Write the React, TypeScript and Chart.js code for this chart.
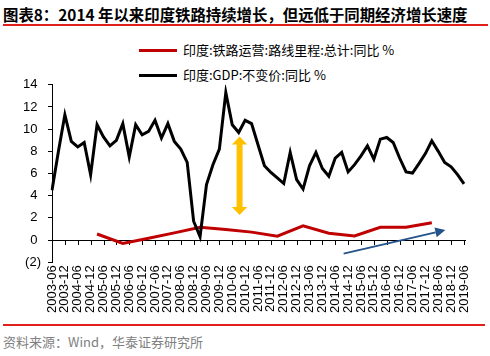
import React, { useEffect, useRef } from "react";
import { Chart, registerables } from "chart.js";

Chart.register(...registerables);

// Quarterly categories (x axis), labels shown every 6 months
const quarters: string[] = [
  "2003-06", "2003-09", "2003-12",
  "2004-03", "2004-06", "2004-09", "2004-12",
  "2005-03", "2005-06", "2005-09", "2005-12",
  "2006-03", "2006-06", "2006-09", "2006-12",
  "2007-03", "2007-06", "2007-09", "2007-12",
  "2008-03", "2008-06", "2008-09", "2008-12",
  "2009-03", "2009-06", "2009-09", "2009-12",
  "2010-03", "2010-06", "2010-09", "2010-12",
  "2011-03", "2011-06", "2011-09", "2011-12",
  "2012-03", "2012-06", "2012-09", "2012-12",
  "2013-03", "2013-06", "2013-09", "2013-12",
  "2014-03", "2014-06", "2014-09", "2014-12",
  "2015-03", "2015-06", "2015-09", "2015-12",
  "2016-03", "2016-06", "2016-09", "2016-12",
  "2017-03", "2017-06", "2017-09", "2017-12",
  "2018-03", "2018-06", "2018-09", "2018-12",
  "2019-03", "2019-06",
];

// 印度:GDP:不变价:同比 % (quarterly)
const gdpGrowth: number[] = [
  4.5, 8.0, 11.3,
  8.9, 8.4, 8.8, 5.9,
  10.4, 9.3, 8.5, 9.0,
  10.5, 7.5, 10.4, 9.5,
  9.8, 10.8, 9.2, 10.5,
  8.9, 8.2, 7.0, 1.7,
  0.3, 5.0, 6.8, 8.2,
  13.3, 10.4, 9.7, 10.8,
  10.5, 8.6, 6.7, 6.1,
  5.6, 5.1, 7.9, 5.45,
  4.6, 6.7, 7.9, 6.45,
  5.75, 7.4, 7.9, 6.15,
  6.8, 7.6, 8.5, 7.3,
  9.1, 9.25, 8.8, 7.4,
  6.15, 6.05, 6.9, 7.8,
  8.95, 8.0, 7.0, 6.6,
  5.9, 5.06,
];

// 印度:铁路运营:路线里程:总计:同比 % (annual, fiscal year ending March)
const railDates: string[] = [
  "2005-03", "2006-03", "2007-03", "2008-03", "2009-03", "2010-03", "2011-03",
  "2012-03", "2013-03", "2014-03", "2015-03", "2016-03", "2017-03", "2018-03",
];
const railGrowth: number[] = [
  0.55, -0.3, 0.16, 0.65, 1.15, 0.95, 0.72,
  0.36, 1.28, 0.62, 0.38, 1.15, 1.15, 1.57,
];

const yTicks = { min: -2, max: 14, step: 2 };

// Annotation arrows (in data units: category index, value)
const gapArrow = { at: 29.14, top: 9.33, bottom: 2.27 };
const trendArrow = { fromAt: 45.3, fromY: -1.22, toAt: 61.1, toY: 0.9 };

const titleText = "图表8：2014 年以来印度铁路持续增长，但远低于同期经济增长速度";
const legendRail = "印度:铁路运营:路线里程:总计:同比 %";
const legendGdp = "印度:GDP:不变价:同比 %";
const sourceText = "资料来源：Wind，华泰证券研究所";

const RED = "#C00000";
const BLACK = "#000000";

const decorPlugin = {
  id: "decor",
  beforeDatasetsDraw(chart: any) {
    const { ctx, chartArea, scales } = chart;
    const x = scales.x;
    const y = scales.y;
    const y0 = y.getPixelForValue(0);
    ctx.save();
    ctx.strokeStyle = "#000";
    ctx.lineWidth = 1;
    ctx.beginPath();
    ctx.moveTo(chartArea.left, Math.round(y0) + 0.5);
    ctx.lineTo(chartArea.right + 2, Math.round(y0) + 0.5);
    for (let i = 0; i < quarters.length; i += 2) {
      const px = Math.round(x.getPixelForValue(i)) + 0.5;
      ctx.moveTo(px, Math.round(y0) + 0.5);
      ctx.lineTo(px, Math.round(y0) + 5);
    }
    ctx.stroke();
    ctx.restore();
  },
  afterDatasetsDraw(chart: any) {
    const { ctx, scales } = chart;
    const x = scales.x;
    const y = scales.y;
    ctx.save();
    // orange double arrow
    const cx = x.getPixelForValue(gapArrow.at);
    const yt = y.getPixelForValue(gapArrow.top);
    const yb = y.getPixelForValue(gapArrow.bottom);
    const headL = 8;
    const headW = 7.7;
    const shaftW = 3;
    ctx.fillStyle = "#FFC000";
    ctx.beginPath();
    ctx.moveTo(cx, yt);
    ctx.lineTo(cx + headW, yt + headL);
    ctx.lineTo(cx + shaftW, yt + headL);
    ctx.lineTo(cx + shaftW, yb - headL);
    ctx.lineTo(cx + headW, yb - headL);
    ctx.lineTo(cx, yb);
    ctx.lineTo(cx - headW, yb - headL);
    ctx.lineTo(cx - shaftW, yb - headL);
    ctx.lineTo(cx - shaftW, yt + headL);
    ctx.lineTo(cx - headW, yt + headL);
    ctx.closePath();
    ctx.fill();

    // blue trend arrow
    const x1 = x.getPixelForValue(trendArrow.fromAt);
    const y1 = y.getPixelForValue(trendArrow.fromY);
    const x2 = x.getPixelForValue(trendArrow.toAt);
    const y2 = y.getPixelForValue(trendArrow.toY);
    const ang = Math.atan2(y2 - y1, x2 - x1);
    const hl = 10;
    const hw = 5;
    const bx = x2 - hl * Math.cos(ang);
    const by = y2 - hl * Math.sin(ang);
    ctx.strokeStyle = "#24528A";
    ctx.fillStyle = "#24528A";
    ctx.lineWidth = 1.8;
    ctx.beginPath();
    ctx.moveTo(x1, y1);
    ctx.lineTo(bx, by);
    ctx.stroke();
    ctx.beginPath();
    ctx.moveTo(x2, y2);
    ctx.lineTo(bx + hw * Math.sin(ang), by - hw * Math.cos(ang));
    ctx.lineTo(bx - hw * Math.sin(ang), by + hw * Math.cos(ang));
    ctx.closePath();
    ctx.fill();
    ctx.restore();
  },
};

export default function App() {
  const canvasRef = useRef<HTMLCanvasElement | null>(null);

  useEffect(() => {
    document.body.style.margin = "0";
    const canvas = canvasRef.current;
    if (!canvas) return;
    const railData = quarters.map((q) => {
      const i = railDates.indexOf(q);
      return i >= 0 ? railGrowth[i] : null;
    });
    const chart = new Chart(canvas, {
      type: "line",
      data: {
        labels: quarters,
        datasets: [
          {
            label: legendGdp,
            data: gdpGrowth,
            borderColor: BLACK,
            borderWidth: 3,
            pointRadius: 0,
            tension: 0,
            order: 1,
          },
          {
            label: legendRail,
            data: railData,
            borderColor: RED,
            borderWidth: 3,
            pointRadius: 0,
            tension: 0,
            spanGaps: true,
            order: 2,
          },
        ],
      },
      options: {
        animation: false,
        responsive: false,
        devicePixelRatio: 1,
        layout: { padding: { left: 0, right: 26, top: 8, bottom: 0 } },
        plugins: {
          legend: { display: false },
          tooltip: { enabled: false },
        },
        scales: {
          x: {
            type: "category",
            offset: false,
            grid: { display: false, drawTicks: false },
            border: { display: false },
            ticks: {
              autoSkip: false,
              maxRotation: 90,
              minRotation: 90,
              padding: 3,
              color: "#000",
              font: { family: "'Liberation Sans', Arial", size: 13 },
              callback: function (this: any, value: any, index: number) {
                return index % 2 === 0 ? quarters[index] : null;
              },
            },
          },
          y: {
            min: yTicks.min,
            max: yTicks.max,
            afterFit: (s: any) => {
              s.width = 52;
            },
            grid: { drawOnChartArea: false, drawTicks: true, tickLength: 4, color: "#000" },
            border: { display: true, color: "#000", width: 1 },
            ticks: {
              stepSize: yTicks.step,
              padding: 7,
              color: "#000",
              font: { family: "'Liberation Sans', Arial", size: 13 },
              callback: (v: any) => (Number(v) < 0 ? `(${-Number(v)})` : `${v} `),
            },
          },
        },
      },
      plugins: [decorPlugin],
    });
    return () => chart.destroy();
  }, []);

  const cjk = "'Noto Sans CJK SC', 'Liberation Sans', sans-serif";

  return (
    <div style={{ position: "absolute", left: 0, top: 0, width: 490, height: 356, background: "#fff", overflow: "hidden" }}>
      <div style={{ position: "absolute", left: 3, top: 4, fontFamily: cjk, fontWeight: 700, fontSize: 15.4, lineHeight: "20px", whiteSpace: "nowrap", color: "#000" }}>
        {titleText}
      </div>
      <div style={{ position: "absolute", left: 3, top: 24, width: 485, height: 2, background: "#E0201A" }} />
      <div style={{ position: "absolute", left: 139, top: 49, width: 38, height: 3, background: RED }} />
      <div style={{ position: "absolute", left: 183, top: 41, fontFamily: cjk, fontSize: 13, lineHeight: "18px", whiteSpace: "nowrap", color: "#000" }}>
        {legendRail}
      </div>
      <div style={{ position: "absolute", left: 139, top: 74, width: 38, height: 3, background: BLACK }} />
      <div style={{ position: "absolute", left: 183, top: 66, fontFamily: cjk, fontSize: 13, lineHeight: "18px", whiteSpace: "nowrap", color: "#000" }}>
        {legendGdp}
      </div>
      <canvas ref={canvasRef} width={490} height={246} style={{ position: "absolute", left: 0, top: 70, width: 490, height: 246 }} />
      <div style={{ position: "absolute", left: 3, top: 324, width: 482, height: 2, background: "#E0201A" }} />
      <div style={{ position: "absolute", left: 3, top: 333, fontFamily: cjk, fontSize: 13, lineHeight: "18px", whiteSpace: "nowrap", color: "#808080" }}>
        {sourceText}
      </div>
    </div>
  );
}
